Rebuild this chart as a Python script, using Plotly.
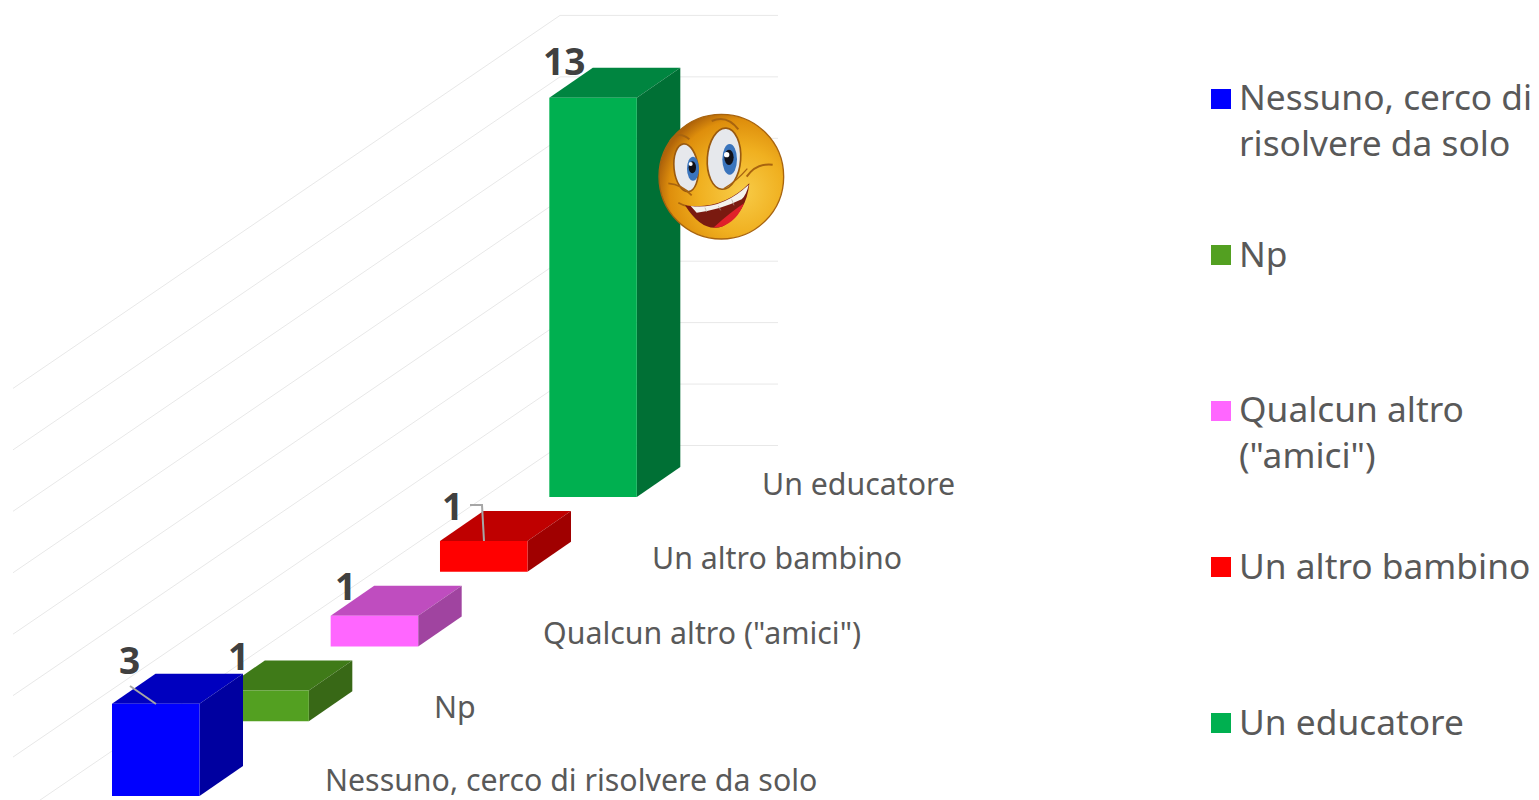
import base64
import plotly.graph_objects as go

# ---- data ----
categories = ["Nessuno, cerco di risolvere da solo", "Np", 'Qualcun altro ("amici")',
              "Un altro bambino", "Un educatore"]
values = [3, 1, 1, 1, 13]
value_ticks = [0, 2, 4, 6, 8, 10, 12, 14]
legend_labels = ["Nessuno, cerco di<br>risolvere da solo", "Np", 'Qualcun altro<br>("amici")',
                 "Un altro bambino", "Un educatore"]

# ---- styles ----
front_colors = ["#0000FF", "#53A021", "#FF66FF", "#FF0000", "#00B050"]
top_colors = ["#0000BF", "#3F7A18", "#BF4DBF", "#BF0000", "#008540"]
side_colors = ["#0000A0", "#386816", "#A044A0", "#A00000", "#007035"]
FONT = "Noto Sans"
TEXT = "#595959"
LABEL = "#404040"

# oblique projection, axis unit x = one category step, y = one value unit
PX_X, PX_Y = 109.33, 30.72
ORIGIN_X, ORIGIN_Y = 112, 796
def X(px): return (px - ORIGIN_X) / PX_X
def Y(py): return (ORIGIN_Y - py) / PX_Y
STEP_Y = 74.75 / PX_Y
WIDTH = 87.5 / PX_X
DEPTH_X, DEPTH_Y = 43.5 / PX_X, 30 / PX_Y

fig = go.Figure()

# walls' gridlines
for v in value_ticks:
    wy = 445.5 - v * PX_Y
    fig.add_trace(go.Scatter(
        x=[X(13), X(560), X(778)],
        y=[Y(wy + 373), Y(wy), Y(wy)],
        mode="lines", line=dict(color="#E8E8E8", width=1), hoverinfo="skip", showlegend=False))

def face(xs, ys, color):
    fig.add_trace(go.Scatter(x=xs, y=ys, mode="lines", fill="toself", fillcolor=color,
                             line=dict(color=color, width=0), hoverinfo="skip", showlegend=False))

# bars, back to front
for i in reversed(range(len(values))):
    x0 = float(i)
    y0 = i * STEP_Y
    v = values[i]
    x1 = x0 + WIDTH
    y1 = y0 + v
    face([x0, x1, x1 + DEPTH_X, x0 + DEPTH_X, x0], [y1, y1, y1 + DEPTH_Y, y1 + DEPTH_Y, y1], top_colors[i])
    face([x1, x1 + DEPTH_X, x1 + DEPTH_X, x1, x1], [y0, y0 + DEPTH_Y, y1 + DEPTH_Y, y1, y0], side_colors[i])
    face([x0, x1, x1, x0, x0], [y0, y0, y1, y1, y0], front_colors[i])

# leader lines
for pts in ([(130, 686), (156, 704)], [(470, 505), (482, 505), (484, 541)]):
    fig.add_trace(go.Scatter(x=[X(p[0]) for p in pts], y=[Y(p[1]) for p in pts], mode="lines",
                             line=dict(color="#A6A6A6", width=2), hoverinfo="skip", showlegend=False))

annotations = []
def text(px, py, s, size, color, anchor="left", bold=False):
    annotations.append(dict(x=X(px), y=Y(py), xref="x", yref="y", text=f"<b>{s}</b>" if bold else s,
                            showarrow=False, xanchor=anchor, yanchor="middle", align="left",
                            borderpad=0, font=dict(family=FONT, size=size, color=color)))

# data labels
label_px = [(129, 659), (238, 655), (345, 585), (452, 505), (564, 60)]
for (px, py), v in zip(label_px, values):
    text(px, py, str(v), 37, LABEL, "center", True)

# category labels
for i, c in enumerate(categories):
    text(323.5 + i * 109.25, (781 - i * 74.5) if i else 779.5, c, 30.3, TEXT)

# legend
legend_y = [98, 254, 410, 566, 722]
fig.add_trace(go.Scatter(x=[X(1221)] * 5, y=[Y(p + 1) for p in legend_y], mode="markers",
                         marker=dict(symbol="square", size=20, color=front_colors, line=dict(width=0)),
                         hoverinfo="skip", showlegend=False))
for py, s in zip(legend_y, legend_labels):
    text(1238, py + (20.5 if "<br>" in s else -1.5), s, 35.3, TEXT)

# smiley picture
svg = '''<svg xmlns="http://www.w3.org/2000/svg" viewBox="0 0 420 420">
<defs>
<radialGradient id="f" cx="0.66" cy="0.62" r="0.68">
<stop offset="0" stop-color="#F8CC48"/><stop offset="0.5" stop-color="#F0B020"/>
<stop offset="0.85" stop-color="#DE8E0C"/><stop offset="1" stop-color="#B0640A"/></radialGradient>
</defs>
<circle cx="214" cy="212" r="187" fill="url(#f)" stroke="#A8640F" stroke-width="4"/>
<g transform="rotate(-6 110 185)"><ellipse cx="108" cy="185" rx="36" ry="72" fill="#E6E8EC" stroke="#9A5A10" stroke-width="5"/></g>
<g transform="rotate(4 222 158)"><ellipse cx="222" cy="158" rx="50" ry="92" fill="#E6E8EC" stroke="#9A5A10" stroke-width="5"/></g>
<ellipse cx="129" cy="188" rx="18" ry="36" fill="#3A74BC"/>
<ellipse cx="127" cy="184" rx="11" ry="18" fill="#101018"/>
<circle cx="122" cy="174" r="6" fill="#FFFFFF"/>
<ellipse cx="239" cy="160" rx="22" ry="46" fill="#3A74BC"/>
<ellipse cx="237" cy="154" rx="14" ry="23" fill="#101018"/>
<circle cx="230" cy="146" r="8" fill="#FFFFFF"/>
<path d="M60 105 Q85 72 118 100" fill="none" stroke="#A8640F" stroke-width="6"/>
<path d="M185 45 Q230 25 265 70" fill="none" stroke="#A8640F" stroke-width="6"/>
<path d="M55 232 Q95 235 125 268" fill="none" stroke="#A8640F" stroke-width="5"/>
<path d="M222 248 Q260 225 292 188" fill="none" stroke="#A8640F" stroke-width="4"/>
<path d="M290 212 Q320 170 368 176" fill="none" stroke="#A8640F" stroke-width="6"/>
<path d="M85 290 Q100 298 110 300" fill="none" stroke="#A8640F" stroke-width="5"/>
<path d="M105 298 Q215 315 298 232 Q290 320 220 360 Q160 385 105 298 Z" fill="#7A1A10"/>
<path d="M190 365 Q240 320 282 292 Q262 345 215 362 Z" fill="#E0202A"/>
<path d="M122 300 Q215 312 296 236 Q290 265 275 280 Q210 312 140 320 Z" fill="#F4F2EE"/>
<path d="M165 305 L170 318 M205 300 L212 313 M245 280 L252 298" fill="none" stroke="#B0A898" stroke-width="2"/>
</svg>'''
uri = "data:image/svg+xml;base64," + base64.b64encode(svg.encode()).decode()

fig.update_layout(
    width=1539, height=800, margin=dict(l=0, r=0, t=0, b=0),
    paper_bgcolor="white", plot_bgcolor="white", showlegend=False,
    xaxis=dict(range=[X(0), X(1539)], visible=False, fixedrange=True),
    yaxis=dict(range=[Y(800), Y(0)], visible=False, fixedrange=True),
    annotations=annotations,
    images=[dict(source=uri, xref="x", yref="y", x=X(650), y=Y(106), sizex=140 / PX_X, sizey=140 / PX_Y,
                 sizing="stretch", xanchor="left", yanchor="top", layer="above")],
)
fig.write_html("out.html", config=dict(displayModeBar=False),
               post_script="document.body.style.margin='0';document.documentElement.style.overflow='hidden';")
